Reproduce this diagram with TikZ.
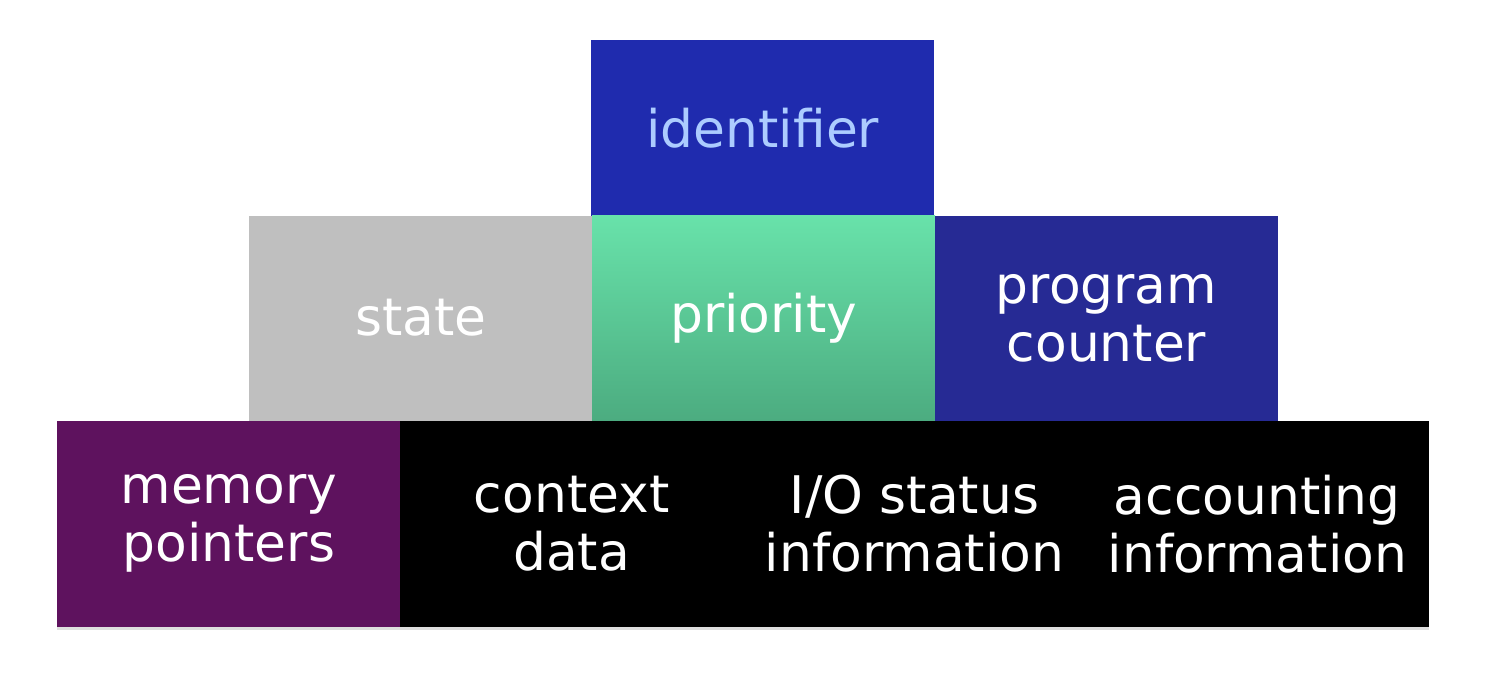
\documentclass[tikz,border=0pt]{standalone}
\usepackage{fontspec}
\setmainfont{DejaVu Sans}
\usepackage{tikz}
\usetikzlibrary{positioning, shadows}
\definecolor{idblue}{RGB}{31,43,174}
\definecolor{idtext}{RGB}{172,204,255}
\definecolor{pcblue}{RGB}{38,42,148}
\definecolor{stategray}{RGB}{191,191,191}
\definecolor{greentop}{RGB}{104,226,170}
\definecolor{greenbot}{RGB}{76,172,128}
\definecolor{mempurple}{RGB}{94,18,94}

\begin{document}
\begin{tikzpicture}[node distance=-0.5pt,
   every node/.style={font=\fontsize{29.5}{33}\selectfont, text=white, align=center},
   blk/.style={rectangle, minimum width=6.86cm, minimum height=4.1cm, inner sep=0pt,
               drop shadow={opacity=0.25, shadow xshift=0cm, shadow yshift=-0.06cm}},
   topblk/.style={blk, minimum height=3.52cm}]

  \useasboundingbox (0,0) rectangle (29.88,13.6);

  % top
  \node[topblk, fill=idblue, text=idtext, anchor=south west] (ident) at (11.82,9.27) {identifier};

  % middle row
  \node[blk, fill=stategray, anchor=south west] (state) at (4.98,5.18) {state};
  \node[blk, top color=greentop, bottom color=greenbot, right=of state] (prio) {priority};
  \node[blk, fill=pcblue, right=of prio] (pc) {program\\counter};

  % bottom row
  \node[blk, minimum height=4.12cm, fill=mempurple, anchor=north west] (mem) at (1.14,5.19) {memory\\pointers};
  \node[blk, minimum height=4.12cm, fill=black, right=of mem] (ctx) {context\\data};
  \node[blk, minimum height=4.12cm, fill=black, right=of ctx] (io) {I/O status\\information};
  \node[blk, minimum height=4.12cm, fill=black, right=of io] (acct) {accounting\\information};
\end{tikzpicture}
\end{document}
